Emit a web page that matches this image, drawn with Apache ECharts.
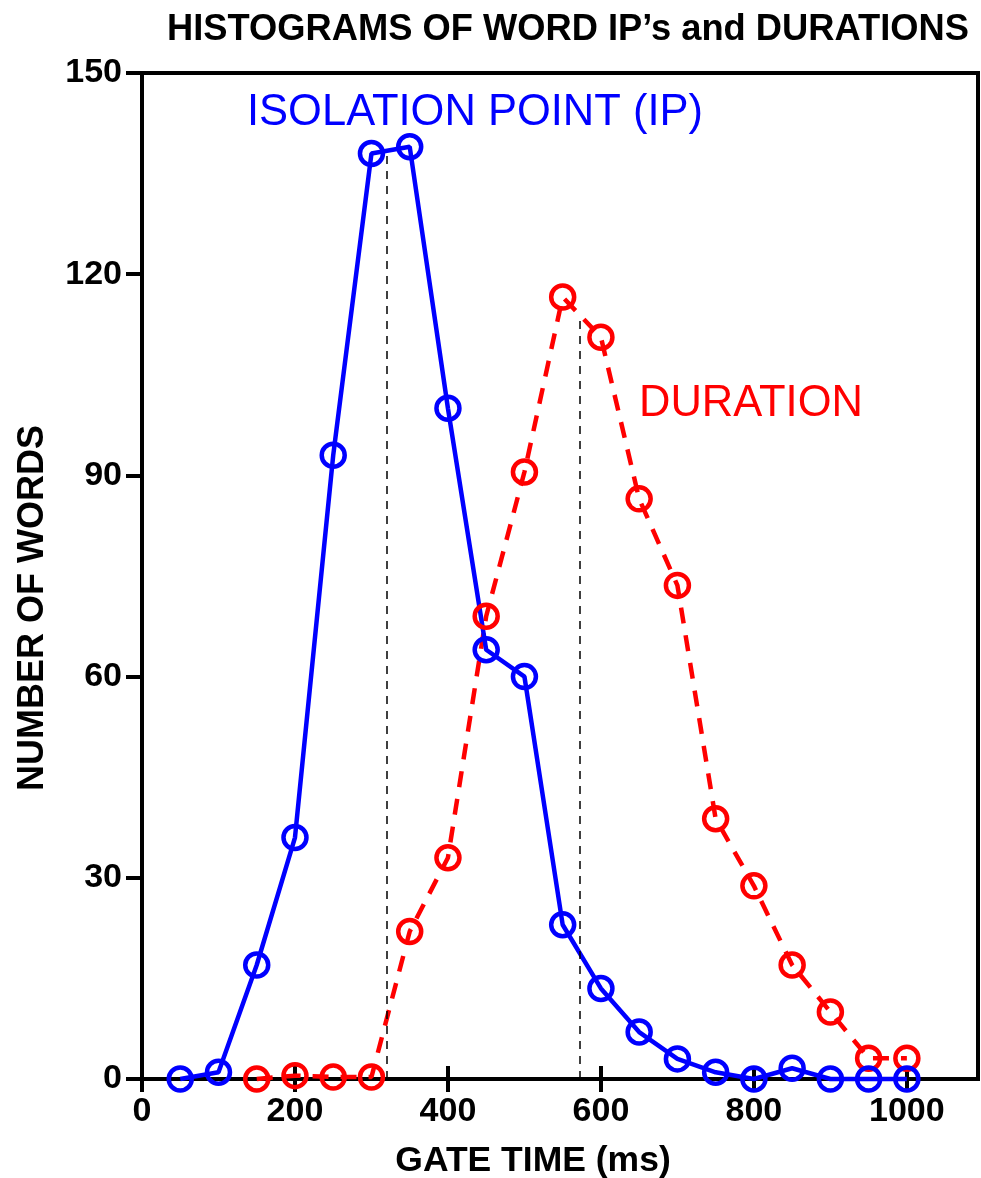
<!DOCTYPE html>
<html>
<head>
<meta charset="utf-8">
<script src="https://cdn.jsdelivr.net/npm/echarts@6/dist/echarts.min.js"></script>
<style>
  html, body { margin: 0; padding: 0; background: #fff; }
  #chart { width: 981px; height: 1178px; }
</style>
</head>
<body>
<div id="chart"></div>
<script>
// gate times (ms) for each bin
const ipTimes = [50, 100, 150, 200, 250, 300, 350, 400, 450, 500, 550, 600, 650, 700, 750, 800, 850, 900, 950, 1000];
const ipCounts = [0, 1, 17, 36, 93, 138, 139, 100, 64, 60, 23, 13.5, 7, 3, 1, 0, 1.6, 0, 0, 0];

const durTimes = [150, 200, 250, 300, 350, 400, 450, 500, 550, 600, 650, 700, 750, 800, 850, 900, 950, 1000];
const durCounts = [0, 0.5, 0.3, 0.3, 22, 33, 69, 90.5, 116.6, 110.6, 86.5, 73.6, 38.8, 28.8, 17, 10, 3.1, 3.1];

// medians (dashed verticals)
const ipMedian = [320, 138.3];
const durMedian = [572, 114];

const yTicks = [0, 30, 60, 90, 120, 150];
const xTicks = [0, 200, 400, 600, 800, 1000];

const FONT = '"Liberation Sans", Arial, Helvetica, sans-serif';
const BLUE = '#0000ff';
const RED = '#ff0000';

const zip = (xs, ys) => xs.map((x, i) => [x, ys[i]]);

const chart = echarts.init(document.getElementById('chart'));
chart.setOption({
  animation: false,
  backgroundColor: '#fff',
  title: {
    text: "HISTOGRAMS OF WORD IP\u2019s and DURATIONS",
    left: 162,
    top: 7,
    textStyle: { fontFamily: FONT, fontWeight: 'bold', fontSize: 36.3, color: '#000' }
  },
  grid: {
    left: 142,
    right: 3,
    top: 73,
    bottom: 99,
    show: true,
    borderColor: '#000',
    borderWidth: 4,
    outerBoundsMode: 'none'
  },
  xAxis: [
    {
      type: 'value',
      min: 0,
      max: 1093,
      interval: 200,
      splitLine: { show: false },
      axisLine: { lineStyle: { color: '#000', width: 4 } },
      axisTick: { length: 13, lineStyle: { color: '#000', width: 4 } },
      axisLabel: {
        showMaxLabel: false,
        margin: 16,
        color: '#000',
        fontFamily: FONT,
        fontWeight: 'bold',
        fontSize: 34,
        formatter: v => xTicks.includes(v) ? String(v) : ''
      },
      name: 'GATE TIME (ms)',
      nameLocation: 'middle',
      nameGap: 64,
      nameTextStyle: {
        fontFamily: FONT, fontWeight: 'bold', fontSize: 35.5, color: '#000',
        padding: [0, 54, 0, 0]
      }
    },
    {
      type: 'value',
      min: 0,
      max: 1093,
      interval: 200,
      position: 'bottom',
      splitLine: { show: false },
      axisLine: { show: false },
      axisTick: { inside: true, length: 13, lineStyle: { color: '#000', width: 4 } },
      axisLabel: { show: false }
    }
  ],
  yAxis: {
    type: 'value',
    min: 0,
    max: 150,
    interval: 30,
    splitLine: { show: false },
    axisLine: { show: true, lineStyle: { color: '#000', width: 4 } },
    axisTick: { show: true, length: 16, lineStyle: { color: '#000', width: 4 } },
    axisLabel: {
      margin: 20,
      color: '#000',
      fontFamily: FONT,
      fontWeight: 'bold',
      fontSize: 34,
      formatter: v => yTicks.includes(v) ? String(v) : ''
    },
    name: 'NUMBER OF WORDS',
    nameLocation: 'middle',
    nameRotate: 90,
    nameGap: 91,
    nameTextStyle: {
      fontFamily: FONT, fontWeight: 'bold', fontSize: 36, color: '#000',
      padding: [0, 64, 0, 0]
    }
  },
  graphic: [
    {
      type: 'text',
      left: 247,
      top: 91,
      style: { text: 'ISOLATION POINT (IP)', fill: BLUE, font: '43.5px ' + FONT }
    },
    {
      type: 'text',
      left: 639,
      top: 382,
      style: { text: 'DURATION', fill: RED, font: '43.5px ' + FONT }
    }
  ],
  series: [
    {
      name: 'DURATION',
      type: 'line',
      data: zip(durTimes, durCounts),
      symbol: 'circle',
      symbolSize: 23,
      showAllSymbol: true,
      clip: false,
      lineStyle: { color: RED, width: 4.5, type: [16, 12] },
      itemStyle: { color: 'rgba(0,0,0,0)', borderColor: RED, borderWidth: 4.5 },
      emphasis: { disabled: true },
      markLine: {
        silent: true,
        symbol: ['none', 'none'],
        label: { show: false },
        lineStyle: { color: '#000', width: 1.5, type: [8, 7] },
        data: [
          [{ coord: [durMedian[0], 0] }, { coord: durMedian }]
        ]
      }
    },
    {
      name: 'ISOLATION POINT (IP)',
      type: 'line',
      data: zip(ipTimes, ipCounts),
      symbol: 'circle',
      symbolSize: 23,
      showAllSymbol: true,
      clip: false,
      lineStyle: { color: BLUE, width: 4.5 },
      itemStyle: { color: 'rgba(0,0,0,0)', borderColor: BLUE, borderWidth: 4.5 },
      emphasis: { disabled: true },
      markLine: {
        silent: true,
        symbol: ['none', 'none'],
        label: { show: false },
        lineStyle: { color: '#000', width: 1.5, type: [8, 7] },
        data: [
          [{ coord: [ipMedian[0], 0] }, { coord: ipMedian }]
        ]
      }
    }
  ]
});
</script>
</body>
</html>
